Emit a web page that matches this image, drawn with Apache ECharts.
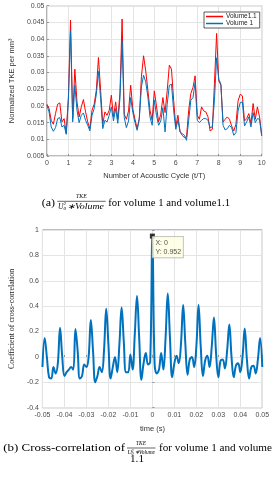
<!DOCTYPE html>
<html><head><meta charset="utf-8">
<script src="https://cdn.jsdelivr.net/npm/echarts@6/dist/echarts.min.js"></script>
<style>html,body{margin:0;padding:0;background:#fff}#c{width:275px;height:480px}</style>
</head><body><div id="c"></div>
<script>
// ---- Panel (a): normalized TKE vs acoustic cycle ----
const cycles = [0,0.1,0.2,0.3,0.4,0.5,0.6,0.7,0.8,0.9,1,1.1,1.2,1.3,1.4,1.5,1.6,1.7,1.8,1.9,2,2.1,2.2,2.3,2.4,2.5,2.6,2.7,2.8,2.9,3,3.1,3.2,3.3,3.4,3.5,3.6,3.7,3.8,3.9,4,4.1,4.2,4.3,4.4,4.5,4.6,4.7,4.8,4.9,5,5.1,5.2,5.3,5.4,5.5,5.6,5.7,5.8,5.9,6,6.1,6.2,6.3,6.4,6.5,6.6,6.7,6.8,6.9,7,7.1,7.2,7.3,7.4,7.5,7.6,7.7,7.8,7.9,8,8.1,8.2,8.3,8.4,8.5,8.6,8.7,8.8,8.9,9,9.1,9.2,9.3,9.4,9.5,9.6,9.7,9.8,9.9,10];
const volume11 = [0.0205,0.0192,0.0157,0.0145,0.0177,0.0205,0.0209,0.0152,0.0162,0.0118,
 0.0227,0.0457,0.0162,0.0310,0.0212,0.0167,0.0197,0.0219,0.0182,0.0152,
 0.0132,0.0187,0.0205,0.0247,0.0345,0.0247,0.0145,0.0182,0.0172,0.0187,
 0.0232,0.0167,0.0212,0.0160,0.0238,0.0460,0.0175,0.0160,0.0185,0.0262,
 0.0190,0.0160,0.0132,0.0162,0.0287,0.0350,0.0305,0.0247,0.0187,0.0157,
 0.0245,0.0200,0.0152,0.0175,0.0225,0.0180,0.0245,0.0322,0.0310,0.0217,
 0.0137,0.0172,0.0122,0.0112,0.0105,0.0107,0.0187,0.0237,0.0255,0.0290,
 0.0172,0.0160,0.0197,0.0185,0.0182,0.0167,0.0125,0.0130,0.0267,0.0417,
 0.0275,0.0262,0.0152,0.0160,0.0167,0.0160,0.0140,0.0125,0.0145,0.0215,
 0.0235,0.0230,0.0155,0.0162,0.0177,0.0147,0.0207,0.0160,0.0197,0.0167,
 0.0112];
const volume1 = [0.0202,0.0182,0.0137,0.0124,0.0135,0.0162,0.0165,0.0137,0.0142,0.0115,
 0.0217,0.0425,0.0152,0.0262,0.0187,0.0150,0.0172,0.0179,0.0157,0.0142,
 0.0125,0.0172,0.0192,0.0235,0.0303,0.0222,0.0132,0.0157,0.0152,0.0172,
 0.0197,0.0155,0.0192,0.0148,0.0222,0.0395,0.0165,0.0135,0.0155,0.0225,
 0.0180,0.0150,0.0127,0.0160,0.0257,0.0292,0.0272,0.0227,0.0167,0.0142,
 0.0217,0.0172,0.0142,0.0155,0.0195,0.0122,0.0205,0.0262,0.0265,0.0187,
 0.0130,0.0157,0.0122,0.0117,0.0112,0.0097,0.0157,0.0217,0.0225,0.0270,
 0.0157,0.0150,0.0157,0.0162,0.0162,0.0157,0.0135,0.0137,0.0217,0.0344,
 0.0280,0.0265,0.0142,0.0128,0.0132,0.0142,0.0135,0.0112,0.0120,0.0185,
 0.0210,0.0212,0.0140,0.0152,0.0167,0.0137,0.0180,0.0150,0.0162,0.0160,
 0.0110];
const seriesNamesA = ['Volume1.1', 'Volume 1'];

// ---- Panel (b): cross-correlation vs lag time ----
const lags = [-0.050,-0.049,-0.048,-0.047,-0.046,-0.045,-0.044,-0.043,-0.042,-0.041,
 -0.040,-0.039,-0.038,-0.037,-0.036,-0.035,-0.034,-0.033,-0.032,-0.031,
 -0.030,-0.029,-0.028,-0.027,-0.026,-0.025,-0.024,-0.023,-0.022,-0.021,
 -0.020,-0.019,-0.018,-0.017,-0.016,-0.015,-0.014,-0.013,-0.012,-0.011,
 -0.010,-0.009,-0.008,-0.007,-0.006,-0.005,-0.004,-0.003,-0.002,-0.001,
 0,0.001,0.002,0.003,0.004,0.005,0.006,0.007,0.008,0.009,
 0.010,0.011,0.012,0.013,0.014,0.015,0.016,0.017,0.018,0.019,
 0.020,0.021,0.022,0.023,0.024,0.025,0.026,0.027,0.028,0.029,
 0.030,0.031,0.032,0.033,0.034,0.035,0.036,0.037,0.038,0.039,
 0.040,0.041,0.042,0.043,0.044,0.045,0.046,0.047,0.048,0.049,0.050];
const corr = [-0.08,0.15,0.0,-0.16,-0.17,-0.08,-0.13,-0.05,0.23,0.0,
 -0.15,-0.12,-0.10,-0.08,-0.10,0.22,0.05,-0.17,-0.15,-0.06,
 -0.08,0.0,0.29,0.05,-0.20,-0.15,-0.08,-0.12,0.05,0.38,
 0.10,-0.17,-0.08,0.0,-0.12,0.10,0.39,0.12,-0.12,-0.12,
 0.02,-0.10,0.18,0.48,0.15,-0.18,-0.05,0.03,-0.06,-0.04,
 0.952,-0.05,-0.13,-0.10,0.03,-0.10,0.15,0.50,0.15,-0.16,
 -0.05,0.01,-0.05,0.10,0.41,0.10,-0.14,-0.02,0.0,-0.08,
 0.08,0.41,0.08,-0.15,-0.03,0.01,-0.08,0.08,0.31,0.02,
 -0.16,-0.03,-0.02,-0.09,0.05,0.255,0.0,-0.16,-0.07,-0.05,
 -0.12,0.0,0.224,-0.02,-0.17,-0.08,-0.07,-0.13,-0.02,0.15,-0.08];
const tipX = [0];
const tipY = [0.952];

// ---- captions ----
const captionA = ['(a)', 'for volume 1 and volume1.1'];
const captionB = ['(b) Cross-correlation of', 'for volume 1 and volume', '1.1'];
const fracNum = 'TKE';
const fracDen = ['U', '0', '2', '\u2217Volume'];

const sans = '"Liberation Sans", Arial, sans-serif';
const serif = '"Liberation Serif", "Times New Roman", serif';
const frameColor = '#7a7a7a', gridColor = '#e4e4e4', labelColor = '#4a4a4a';

const mctx = document.createElement('canvas').getContext('2d');
function fitText(text, font, x0, x1, yc, color) {
  mctx.font = font;
  const w = mctx.measureText(text).width || 1;
  return {type:'text', x:x0, y:yc, scaleX:(x1 - x0) / w,
    style:{text:text, font:font, textAlign:'left', textVerticalAlign:'middle', fill:color || '#000'}};
}
function plainText(text, font, x, yc, align) {
  return {type:'text', x:x, y:yc,
    style:{text:text, font:font, textAlign:align || 'left', textVerticalAlign:'middle', fill:'#000'}};
}
function fraction(cx0, cx1, lineY, numFont, numY, numX0, numX1, denFont, smallFont, denY, uX, scriptX, restX0, restX1, supDy, subDy) {
  return [
    fitText(fracNum, numFont, numX0, numX1, numY),
    {type:'line', shape:{x1:cx0, y1:lineY, x2:cx1, y2:lineY}, style:{stroke:'#000', lineWidth:0.6}},
    plainText(fracDen[0], denFont, uX, denY),
    plainText(fracDen[1], smallFont, scriptX, denY + subDy),
    plainText(fracDen[2], smallFont, scriptX, denY + supDy),
    fitText(fracDen[3], denFont, restX0, restX1, denY)
  ];
}

const capBY = 448.5;
const graphics = [].concat(
  [fitText(captionA[0], '10.8px ' + serif, 41.7, 55, 202.7),
   fitText(captionA[1], '10.8px ' + serif, 108.3, 230, 202.7)],
  fraction(57.3, 105.7, 201.3, 'italic 6.5px ' + serif, 196.3, 76, 86.7,
           'italic 7.5px ' + serif, 'italic 5px ' + serif, 206.6, 58, 63.6, 67, 104, -2.6, 2.0),
  [fitText(captionB[0], '11.2px ' + serif, 3.3, 125, capBY),
   fitText(captionB[1], '11.2px ' + serif, 159, 272, capBY),
   plainText(captionB[2], '11.2px ' + serif, 137, capBY + 10.5, 'center')],
  fraction(127, 155.5, capBY - 0.5, 'italic 5.5px ' + serif, capBY - 5.2, 136, 146,
           'italic 6px ' + serif, 'italic 4px ' + serif, capBY + 4.3, 127.5, 131.6, 134.5, 155, -2.0, 1.6)
);

const chart = echarts.init(document.getElementById('c'), null, {renderer:'canvas', width:275, height:480});

function axisCommon(extra) {
  return Object.assign({
    axisLine:{show:false},
    axisTick:{show:true, inside:true, length:2, lineStyle:{color:frameColor, width:0.8}},
    splitLine:{show:true, lineStyle:{color:gridColor, width:1}}
  }, extra);
}

chart.setOption({
  animation:false,
  backgroundColor:'#fff',
  grid:[
    {left:43.3, top:5.7, width:218.4, height:150.3, show:true, borderColor:frameColor, borderWidth:1, backgroundColor:'transparent'},
    {left:36, top:230, width:226.3, height:177.7, show:true, borderColor:frameColor, borderWidth:1, backgroundColor:'transparent'}
  ],
  xAxis:[
    axisCommon({gridIndex:0, type:'value', min:0, max:10, interval:1,
      name:'Number of Acoustic Cycle (t/T)', nameLocation:'middle', nameGap:15.5,
      nameTextStyle:{fontFamily:sans, fontSize:7.5, color:'#333'},
      axisLabel:{fontFamily:sans, fontSize:7, color:labelColor, margin:3.5, formatter:v => String(+v.toFixed(2))}}),
    axisCommon({gridIndex:1, type:'value', min:-0.05, max:0.05, interval:0.01,
      name:'time (s)', nameLocation:'middle', nameGap:17.5,
      nameTextStyle:{fontFamily:sans, fontSize:7.5, color:'#333'},
      axisLabel:{fontFamily:sans, fontSize:7, color:labelColor, margin:4, formatter:v => String(+v.toFixed(2))}})
  ],
  yAxis:[
    axisCommon({gridIndex:0, type:'value', min:0.005, max:0.05, interval:0.005,
      name:'Normalized TKE per mm\u00b3', nameLocation:'middle', nameGap:26,
      nameTextStyle:{fontFamily:sans, fontSize:7.5, color:'#333'},
      axisLabel:{fontFamily:sans, fontSize:7, color:labelColor, margin:2.5, formatter:v => String(+v.toFixed(4))}}),
    axisCommon({gridIndex:1, type:'value', min:-0.4, max:1, interval:0.2,
      name:'Coefficient of cross-correlation', nameLocation:'middle', nameGap:17.5,
      nameTextStyle:{fontFamily:serif, fontSize:8, color:'#222'},
      axisLabel:{fontFamily:sans, fontSize:7, color:labelColor, margin:3.5, formatter:v => String(+v.toFixed(2))}})
  ],
  legend:{
    data:seriesNamesA, orient:'vertical', left:204, top:12,
    icon:'rect', itemWidth:17, itemHeight:1.5, itemGap:0,
    padding:[1,3,1,2], backgroundColor:'#fff', borderColor:'#333', borderWidth:0.8,
    textStyle:{fontFamily:sans, fontSize:6.5, color:'#222', padding:[0,0,0,-2]}
  },
  series:[
    {name:seriesNamesA[0], type:'line', xAxisIndex:0, yAxisIndex:0,
     data:cycles.map((c,i) => [c, volume11[i]]), showSymbol:false,
     lineStyle:{color:'#ff0000', width:1}, itemStyle:{color:'#ff0000'}, z:2},
    {name:seriesNamesA[1], type:'line', xAxisIndex:0, yAxisIndex:0,
     data:cycles.map((c,i) => [c, volume1[i]]), showSymbol:false,
     lineStyle:{color:'#0072BD', width:1}, itemStyle:{color:'#0072BD'}, z:3},
    {name:'xcorr', type:'line', xAxisIndex:1, yAxisIndex:1,
     data:lags.map((t,i) => [t, corr[i]]), showSymbol:false, smooth:0.4,
     lineStyle:{color:'#0072BD', width:2}, itemStyle:{color:'#0072BD'}, z:2},
    {name:'datatip', type:'scatter', xAxisIndex:1, yAxisIndex:1,
     data:tipX.map((x,i) => [x, tipY[i]]), symbol:'rect', symbolSize:5,
     itemStyle:{color:'#000'}, z:10,
     label:{show:true, position:[2.5,3], formatter:p => 'X: ' + p.value[0] + '\nY: ' + p.value[1],
       backgroundColor:'#ffffe1', borderColor:'#9a9a9a', borderWidth:0.6, padding:[2,2,1,3],
       fontFamily:sans, fontSize:7, lineHeight:9, color:'#222'}}
  ],
  graphic:graphics
});
</script>
</body></html>
